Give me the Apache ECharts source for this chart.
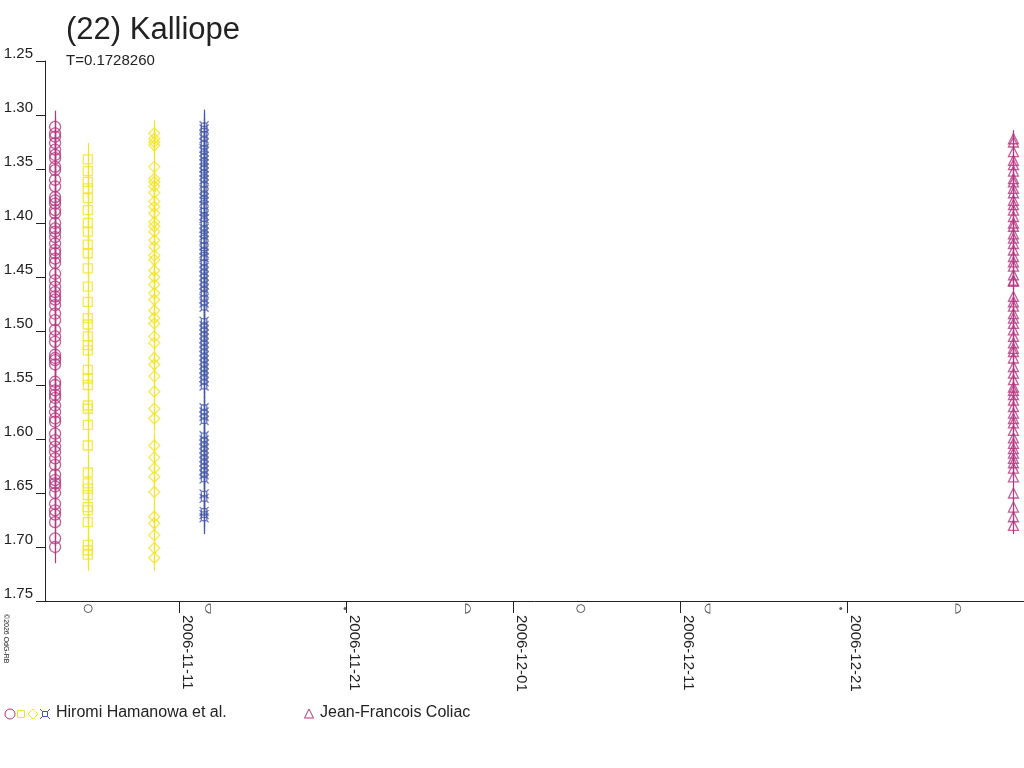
<!DOCTYPE html>
<html lang="en">
<head>
    <meta charset="UTF-8"/>
    <title>(22) Kalliope</title>
    <script src="https://cdn.jsdelivr.net/npm/echarts@6/dist/echarts.min.js"></script>
    <style>html, body {margin: 0; padding: 0; background: #fff;}</style>
</head>
<body>
<div id="main" style="width: 1024px; height: 768px;"></div>
<script type="text/javascript">
    // session times (UTC)
    var timeHam1 = '2006-11-03T13:30Z';
    var timeHam2 = '2006-11-05T12:30Z';
    var timeHam3 = '2006-11-09T12:00Z';
    var timeHam4 = '2006-11-12T11:30Z';
    var timeCol1 = '2006-12-30T22:00Z';

    // reduced magnitudes
    var magHam1 = [1.311, 1.317, 1.320, 1.326, 1.332, 1.337, 1.340, 1.348, 1.351, 1.360, 1.366, 1.376, 1.379,
        1.382, 1.388, 1.391, 1.400, 1.405, 1.408, 1.413, 1.419, 1.425, 1.428, 1.433, 1.437, 1.447, 1.453,
        1.459, 1.464, 1.468, 1.471, 1.476, 1.484, 1.490, 1.499, 1.505, 1.510, 1.522, 1.525, 1.527, 1.531,
        1.547, 1.550, 1.555, 1.559, 1.562, 1.569, 1.575, 1.581, 1.584, 1.595, 1.601, 1.607, 1.612, 1.618,
        1.624, 1.633, 1.638, 1.641, 1.644, 1.650, 1.660, 1.666, 1.670, 1.677, 1.692, 1.700];
    var magHam2 = [1.341, 1.352, 1.362, 1.368, 1.377, 1.388, 1.400, 1.408, 1.420, 1.428, 1.442, 1.459, 1.473,
        1.488, 1.494, 1.505, 1.513, 1.518, 1.536, 1.544, 1.550, 1.569, 1.572, 1.587, 1.606, 1.631, 1.641,
        1.646, 1.652, 1.663, 1.666, 1.677, 1.698, 1.703, 1.707];
    var magHam3 = [1.317, 1.322, 1.325, 1.328, 1.348, 1.359, 1.362, 1.366, 1.372, 1.380, 1.385, 1.391, 1.399,
        1.403, 1.408, 1.416, 1.422, 1.430, 1.434, 1.444, 1.450, 1.457, 1.465, 1.471, 1.481, 1.488, 1.493,
        1.505, 1.511, 1.525, 1.531, 1.542, 1.556, 1.572, 1.581, 1.606, 1.617, 1.627, 1.635, 1.649, 1.672,
        1.678, 1.689, 1.701, 1.710];
    var magHam4 = [1.310, 1.313, 1.318, 1.322, 1.326, 1.331, 1.334, 1.338, 1.342, 1.345, 1.349, 1.353, 1.356,
        1.360, 1.364, 1.369, 1.373, 1.377, 1.380, 1.384, 1.389, 1.393, 1.396, 1.401, 1.405, 1.409, 1.412,
        1.416, 1.421, 1.425, 1.428, 1.432, 1.437, 1.441, 1.445, 1.449, 1.453, 1.457, 1.461, 1.465, 1.470,
        1.474, 1.478, 1.491, 1.495, 1.499, 1.503, 1.507, 1.511, 1.515, 1.519, 1.523, 1.527, 1.531, 1.535,
        1.539, 1.543, 1.547, 1.551, 1.571, 1.575, 1.579, 1.583, 1.597, 1.601, 1.605, 1.609, 1.613, 1.617,
        1.621, 1.625, 1.629, 1.633, 1.637, 1.651, 1.655, 1.667, 1.670, 1.673];
    var magCol1 = [1.322, 1.325, 1.334, 1.342, 1.346, 1.352, 1.359, 1.362, 1.368, 1.372, 1.379, 1.383, 1.388,
        1.394, 1.400, 1.403, 1.410, 1.414, 1.419, 1.425, 1.431, 1.436, 1.440, 1.448, 1.453, 1.454, 1.468,
        1.473, 1.477, 1.484, 1.488, 1.493, 1.499, 1.505, 1.511, 1.516, 1.519, 1.525, 1.533, 1.539, 1.545,
        1.552, 1.555, 1.559, 1.564, 1.570, 1.576, 1.581, 1.585, 1.592, 1.599, 1.604, 1.609, 1.613, 1.618,
        1.622, 1.627, 1.635, 1.650, 1.663, 1.672, 1.680];

    // error bar half-length of each session
    var errHam = [0.015, 0.015, 0.012, 0.015];
    var errCol = 0.008;

    // moon phases shown under the axis
    var moonTimes = ['2006-11-05T13:00Z', '2006-11-12T17:00Z', '2006-11-20T22:00Z', '2006-11-28T06:30Z',
        '2006-12-05T00:30Z', '2006-12-12T14:30Z', '2006-12-20T14:00Z', '2006-12-27T14:45Z'];
    var moonPhases = ['full', 'last', 'new', 'first', 'full', 'last', 'new', 'first'];

    var xTicks = ['2006-11-11', '2006-11-21', '2006-12-01', '2006-12-11', '2006-12-21'];
    var yMin = 1.25, yMax = 1.75, yStep = 0.05;
    var xMin = Date.parse('2006-11-02T23:00Z');
    var xMax = Date.parse('2006-12-31T13:10Z');

    var cMag = '#b5357f';
    var cYel = '#f2e424';
    var cBlu = '#4357a6';

    var starPath = 'path://M2,2 L8,2 L8,8 L2,8 Z M0,0 L2,2 M10,0 L8,2 M0,10 L2,8 M10,10 L8,8';
    var moonSym = {
        full: 'circle',
        new: 'circle',
        first: 'path://M0,0 C7,0 7,10 0,10 Z',
        last: 'path://M7,0 C0,0 0,10 7,10 Z'
    };

    function session(name, time, mags, err, color, symbol, size) {
        var t = Date.parse(time);
        var pts = mags.map(function (m) { return [t, m, err]; });
        return [{
            name: name,
            type: 'custom',
            data: pts,
            z: 2,
            silent: true,
            renderItem: function (params, api) {
                var a = api.coord([api.value(0), api.value(1) - api.value(2)]);
                var b = api.coord([api.value(0), api.value(1) + api.value(2)]);
                return {
                    type: 'line',
                    shape: {x1: Math.round(a[0]) + 0.5, y1: a[1], x2: Math.round(b[0]) + 0.5, y2: b[1]},
                    style: {stroke: color, lineWidth: 1.2}
                };
            }
        }, {
            name: name,
            type: 'scatter',
            data: pts,
            z: 3,
            symbol: symbol,
            symbolSize: size,
            itemStyle: {color: 'rgba(0,0,0,0)', borderColor: color, borderWidth: 1.3}
        }];
    }

    var series = [].concat(
        session('Ham1', timeHam1, magHam1, errHam[0], cMag, 'circle', 11),
        session('Ham2', timeHam2, magHam2, errHam[1], cYel, 'rect', 9),
        session('Ham3', timeHam3, magHam3, errHam[2], cYel, 'diamond', 11),
        session('Ham4', timeHam4, magHam4, errHam[3], cBlu, starPath, 9),
        session('Col1', timeCol1, magCol1, errCol, cMag, 'triangle', 10)
    );

    series.push({
        name: 'moon',
        type: 'scatter',
        clip: false,
        silent: true,
        data: moonTimes.map(function (t, i) {
            var p = moonPhases[i];
            return {
                value: [Date.parse(t), 1.757],
                symbol: moonSym[p],
                symbolSize: p === 'new' ? 3 : (p === 'full' ? 8 : [5, 9]),
                itemStyle: p === 'new'
                    ? {color: '#333'}
                    : {color: 'rgba(0,0,0,0)', borderColor: '#333', borderWidth: 1}
            };
        })
    });

    var font = '"Liberation Sans", Arial, sans-serif';
    var legendLine = {fill: 'none', stroke: cBlu, lineWidth: 1};
    var myChart = echarts.init(document.getElementById('main'));

    var option = {
        animation: false,
        backgroundColor: '#fff',
        title: {
            text: '(22) Kalliope',
            subtext: 'T=0.1728260',
            left: 61,
            top: 10,
            itemGap: 7,
            textStyle: {fontFamily: font, fontSize: 31, fontWeight: 'normal', color: '#222'},
            subtextStyle: {fontFamily: font, fontSize: 15, color: '#222'}
        },
        grid: {left: 45, right: 0, top: 61, bottom: 167},
        xAxis: {
            type: 'value',
            min: xMin,
            max: xMax,
            axisLine: {lineStyle: {color: '#222', width: 1}},
            axisTick: {
                customValues: xTicks.map(function (d) { return Date.parse(d + 'T00:00Z'); }),
                length: 12,
                lineStyle: {color: '#222'}
            },
            axisLabel: {
                customValues: xTicks.map(function (d) { return Date.parse(d + 'T00:00Z'); }),
                rotate: -90,
                margin: 14,
                verticalAlign: 'bottom',
                fontFamily: font,
                fontSize: 15,
                color: '#222',
                formatter: function (v) { return new Date(v).toISOString().slice(0, 10); }
            },
            splitLine: {show: false}
        },
        yAxis: {
            type: 'value',
            inverse: true,
            min: yMin,
            max: yMax,
            interval: yStep,
            axisLine: {show: true, lineStyle: {color: '#222', width: 1}},
            axisTick: {show: true, length: 9, lineStyle: {color: '#222'}},
            axisLabel: {
                margin: 12,
                verticalAlign: 'bottom',
                fontFamily: font,
                fontSize: 15,
                color: '#222',
                formatter: function (v) { return v.toFixed(2); }
            },
            splitLine: {show: false}
        },
        graphic: [
            {type: 'text', x: 9, y: 614, rotation: -Math.PI / 2,
                style: {text: '\u00a92026 OdG-RB', font: '7px ' + font, fill: '#222', verticalAlign: 'top'}},
            {type: 'circle', shape: {cx: 10, cy: 714, r: 5}, style: {fill: 'none', stroke: cMag, lineWidth: 1}},
            {type: 'rect', shape: {x: 17.5, y: 710.5, width: 7, height: 7}, style: {fill: 'none', stroke: cYel, lineWidth: 1}},
            {type: 'polygon', shape: {points: [[33, 709], [38, 714], [33, 719], [28, 714]]}, style: {fill: 'none', stroke: cYel, lineWidth: 1}},
            {type: 'rect', shape: {x: 42.5, y: 711.5, width: 5, height: 5}, style: legendLine},
            {type: 'line', shape: {x1: 40, y1: 709, x2: 42.5, y2: 711.5}, style: legendLine},
            {type: 'line', shape: {x1: 50, y1: 709, x2: 47.5, y2: 711.5}, style: legendLine},
            {type: 'line', shape: {x1: 40, y1: 719, x2: 42.5, y2: 716.5}, style: legendLine},
            {type: 'line', shape: {x1: 50, y1: 719, x2: 47.5, y2: 716.5}, style: legendLine},
            {type: 'text', x: 56, y: 713, style: {text: 'Hiromi Hamanowa et al.', font: '16px ' + font, fill: '#222', verticalAlign: 'middle'}},
            {type: 'polygon', shape: {points: [[309, 709], [313.5, 718], [304.5, 718]]}, style: {fill: 'none', stroke: cMag, lineWidth: 1}},
            {type: 'text', x: 320, y: 713, style: {text: 'Jean-Francois Coliac', font: '16px ' + font, fill: '#222', verticalAlign: 'middle'}}
        ],
        series: series
    };

    myChart.setOption(option);
</script>
</body>
</html>
